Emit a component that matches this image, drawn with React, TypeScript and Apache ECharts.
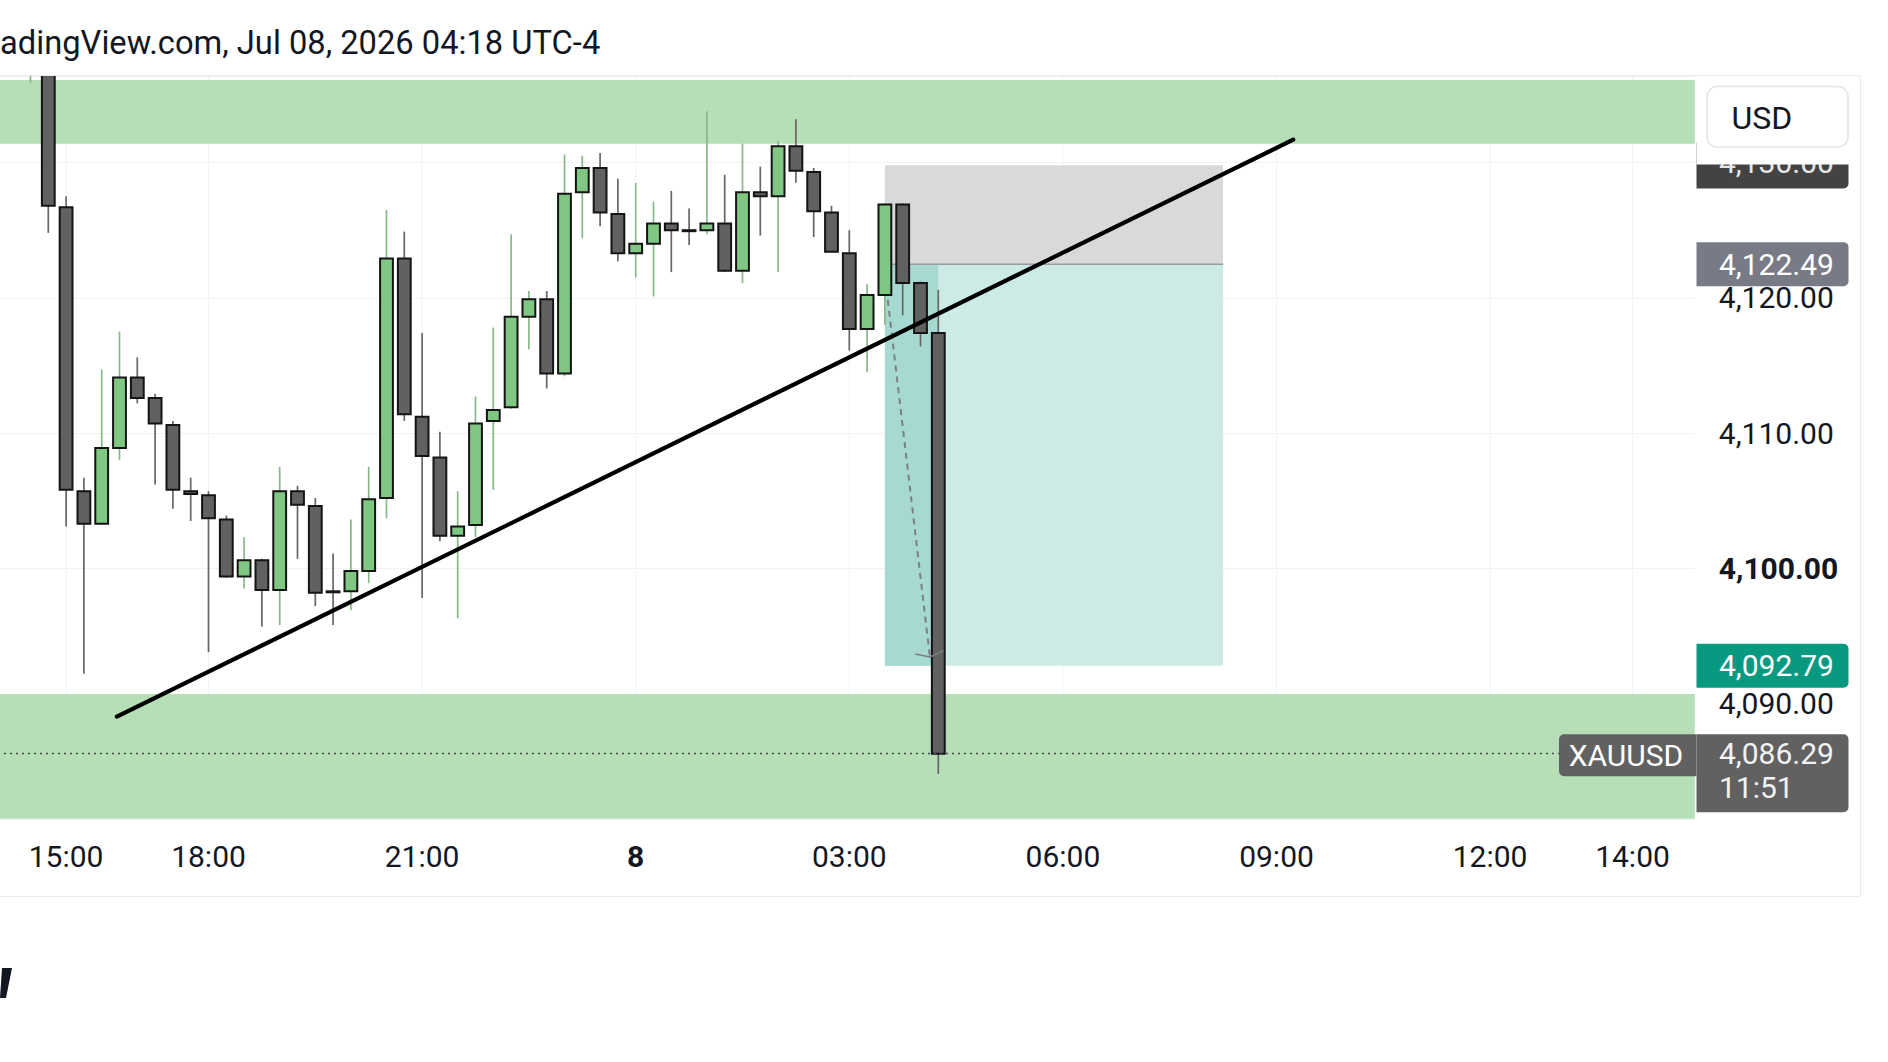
import React, { useEffect, useRef } from "react";
import * as echarts from "echarts";

// ---------- data ----------
const HEADER_TEXT = "adingView.com, Jul 08, 2026 04:18 UTC-4";

// 15-minute slots shown on the time axis (gold pauses 17:00-18:00)
const timeSlots: string[] = [
  "7 14:00", "7 14:15", "7 14:30", "7 14:45", "7 15:00", "7 15:15", "7 15:30", "7 15:45",
  "7 16:00", "7 16:15", "7 16:30", "7 16:45",
  "7 18:00", "7 18:15", "7 18:30", "7 18:45", "7 19:00", "7 19:15", "7 19:30", "7 19:45",
  "7 20:00", "7 20:15", "7 20:30", "7 20:45", "7 21:00", "7 21:15", "7 21:30", "7 21:45",
  "7 22:00", "7 22:15", "7 22:30", "7 22:45", "7 23:00", "7 23:15", "7 23:30", "7 23:45",
  "8 00:00", "8 00:15", "8 00:30", "8 00:45", "8 01:00", "8 01:15", "8 01:30", "8 01:45",
  "8 02:00", "8 02:15", "8 02:30", "8 02:45", "8 03:00", "8 03:15", "8 03:30", "8 03:45",
  "8 04:00", "8 04:15", "8 04:30", "8 04:45", "8 05:00", "8 05:15", "8 05:30", "8 05:45",
  "8 06:00", "8 06:15", "8 06:30", "8 06:45", "8 07:00", "8 07:15", "8 07:30", "8 07:45",
  "8 08:00", "8 08:15", "8 08:30", "8 08:45", "8 09:00", "8 09:15", "8 09:30", "8 09:45",
  "8 10:00", "8 10:15", "8 10:30", "8 10:45", "8 11:00", "8 11:15", "8 11:30", "8 11:45",
  "8 12:00", "8 12:15", "8 12:30", "8 12:45", "8 13:00", "8 13:15", "8 13:30", "8 13:45",
  "8 14:00", "8 14:15", "8 14:30", "8 14:45",
];

const tickSlots = ["7 15:00", "7 18:00", "7 21:00", "8 00:00", "8 03:00", "8 06:00", "8 09:00", "8 12:00", "8 14:00"];
const tickTexts = ["15:00", "18:00", "21:00", "8", "03:00", "06:00", "09:00", "12:00", "14:00"];
const boldTicks = ["8"];

const candleSlots = [
  "7 14:30", "7 14:45", "7 15:00", "7 15:15", "7 15:30", "7 15:45", "7 16:00", "7 16:15", "7 16:30", "7 16:45",
  "7 18:00", "7 18:15", "7 18:30", "7 18:45", "7 19:00", "7 19:15", "7 19:30", "7 19:45",
  "7 20:00", "7 20:15", "7 20:30", "7 20:45", "7 21:00", "7 21:15", "7 21:30", "7 21:45",
  "7 22:00", "7 22:15", "7 22:30", "7 22:45", "7 23:00", "7 23:15", "7 23:30", "7 23:45",
  "8 00:00", "8 00:15", "8 00:30", "8 00:45", "8 01:00", "8 01:15", "8 01:30", "8 01:45",
  "8 02:00", "8 02:15", "8 02:30", "8 02:45", "8 03:00", "8 03:15", "8 03:30", "8 03:45",
  "8 04:00", "8 04:15",
];
const opens = [
  4137.2, 4140.3, 4126.7, 4105.7, 4103.3, 4108.9, 4114.1, 4112.6, 4110.6, 4105.7,
  4105.4, 4103.6, 4099.4, 4100.6, 4098.4, 4105.7, 4104.6, 4098.3,
  4098.3, 4099.8, 4105.2, 4122.9, 4111.2, 4108.2, 4102.4, 4103.2,
  4110.9, 4111.9, 4118.6, 4119.9, 4114.4, 4127.8, 4129.6, 4126.2,
  4123.3, 4124.0, 4125.5, 4125.0, 4125.0, 4125.5, 4122.0, 4127.8,
  4127.5, 4131.2, 4129.3, 4126.3, 4123.3, 4117.7, 4120.2, 4126.9,
  4121.1, 4117.4,
];
const highs = [
  4141.5, 4140.8, 4127.5, 4106.7, 4114.7, 4117.5, 4115.6, 4112.9, 4110.9, 4106.7,
  4105.7, 4103.9, 4102.3, 4100.7, 4107.5, 4106.1, 4105.2, 4101.1,
  4103.6, 4107.5, 4126.5, 4124.9, 4117.4, 4110.1, 4105.7, 4112.7,
  4117.8, 4124.7, 4120.5, 4120.5, 4130.6, 4130.5, 4130.7, 4128.8,
  4128.5, 4127.1, 4127.9, 4126.6, 4133.8, 4129.1, 4131.4, 4129.7,
  4131.6, 4133.2, 4129.6, 4126.8, 4125.0, 4121.0, 4127.0, 4127.0,
  4121.2, 4120.6,
];
const lows = [
  4135.9, 4124.8, 4103.1, 4092.2, 4103.2, 4108.0, 4112.2, 4106.2, 4104.4, 4103.5,
  4093.8, 4099.3, 4098.5, 4095.7, 4095.8, 4100.7, 4097.2, 4095.8,
  4096.9, 4098.9, 4103.7, 4110.9, 4097.8, 4102.0, 4096.3, 4102.3,
  4105.8, 4111.8, 4116.2, 4113.3, 4114.2, 4124.4, 4125.3, 4122.7,
  4121.5, 4120.1, 4121.9, 4123.9, 4124.7, 4121.9, 4121.1, 4124.6,
  4121.9, 4128.5, 4124.5, 4123.4, 4116.1, 4114.5, 4118.0, 4118.7,
  4116.4, 4084.8,
];
const closes = [
  4140.5, 4126.8, 4105.8, 4103.3, 4108.9, 4114.1, 4112.6, 4110.7, 4105.8, 4105.5,
  4103.7, 4099.4, 4100.6, 4098.4, 4105.7, 4104.7, 4098.2, 4098.28,
  4099.8, 4105.1, 4122.9, 4111.4, 4108.3, 4102.4, 4103.1, 4110.7,
  4111.7, 4118.6, 4119.9, 4114.4, 4127.7, 4129.6, 4126.3, 4123.3,
  4124.0, 4125.5, 4125.0, 4124.98, 4125.5, 4122.0, 4127.8, 4127.5,
  4131.2, 4129.4, 4126.4, 4123.4, 4117.7, 4120.2, 4126.9, 4121.1,
  4117.4, 4086.29,
];

// price axis visible range
const priceTop = 4136.4;
const priceBottom = 4081.48;

// supply / demand zones [upper, lower]
const zoneUpper = [4136.1, 4131.4];
const zoneLower = [4090.7, 4070.0];

// short position tool
const posStartSlot = "8 03:30";
const posEndSlot = "8 08:15";
const posStop = 4129.8;
const posEntry = 4122.49;
const posTarget = 4092.79;

// trend line [slot position, price]
const trendStart = [6.85, 4089.04];
const trendEnd = [72.94, 4131.69];

// projected path (dashed arrow)
const pathStart = [50.16, 4119.85];
const pathEnd = [52.53, 4093.44];

// price scale labels
const topLabelPrice = 4130.0;
const lastPrice = closes[closes.length - 1];
const countdown = "11:51";
const symbolName = "XAUUSD";
const currency = "USD";

// ---------- styles ----------
const UP_FILL = "#81c784";
const DOWN_FILL = "#616161";
const UP_WICK = "#86b988";
const DOWN_WICK = "#676767";
const BORDER = "#141414";
const ZONE = "#b6dfb8";
const TEXT = "#131722";
const FONT = "Roboto";

const fmt = (v: number) =>
  v.toLocaleString("en-US", { minimumFractionDigits: 2, maximumFractionDigits: 2 });

const slotIndex = (s: string) => timeSlots.indexOf(s);

function clipRect(r: any, cs: any) {
  return echarts.graphic.clipRectByRect(r, cs);
}

function buildOption(): any {
  const candleData = candleSlots.map((s, i) => [slotIndex(s), opens[i], closes[i], lows[i], highs[i]]);
  const gridLineData = tickSlots.map((s) => [slotIndex(s)]);
  const n = timeSlots.length;

  return {
    animation: false,
    backgroundColor: "#ffffff",
    textStyle: { fontFamily: FONT },
    grid: {
      left: -14,
      top: 76,
      width: n * 17.8,
      height: 742.8,
      containLabel: false,
      outerBoundsMode: "none",
    },
    xAxis: [
      {
        type: "category",
        data: timeSlots,
        boundaryGap: true,
        position: "bottom",
        axisLine: { show: false },
        axisTick: { show: false },
        splitLine: { show: false },
        axisLabel: {
          interval: (_i: number, v: string) => tickSlots.indexOf(v) >= 0,
          formatter: (v: string) => {
            const t = tickTexts[tickSlots.indexOf(v)] ?? "";
            return boldTicks.indexOf(t) >= 0 ? `{b|${t}}` : t;
          },
          margin: 23,
          fontSize: 30,
          lineHeight: 30,
          color: TEXT,
          fontFamily: FONT,
          rich: { b: { fontSize: 30, fontWeight: "bold", color: TEXT, fontFamily: FONT, lineHeight: 30 } },
        },
      },
      { type: "value", min: -0.5, max: n - 0.5, show: false },
    ],
    yAxis: {
      type: "value",
      position: "right",
      min: priceBottom,
      max: priceTop,
      axisLine: { show: false },
      axisTick: { show: false },
      splitLine: { lineStyle: { color: "#f1f2f4", width: 1 } },
      axisLabel: {
        margin: 24,
        align: "left",
        fontSize: 30,
        color: TEXT,
        fontFamily: FONT,
        showMinLabel: false,
        showMaxLabel: false,
        formatter: (v: number) => {
          if (Math.abs(v / 10 - Math.round(v / 10)) > 1e-6) return "";
          return Math.round(v) === 4100 ? `{b|${fmt(v)}}` : fmt(v);
        },
        rich: { b: { fontSize: 30, fontWeight: "bold", color: TEXT, fontFamily: FONT } },
      },
    },
    series: [
      {
        name: "gridlines",
        type: "custom",
        xAxisIndex: 1,
        yAxisIndex: 0,
        z: 1,
        silent: true,
        data: gridLineData,
        encode: { x: 0 },
        renderItem: (params: any, api: any) => {
          const cs = params.coordSys;
          const x = api.coord([api.value(0), priceBottom])[0];
          return {
            type: "line",
            shape: { x1: x, y1: cs.y, x2: x, y2: cs.y + cs.height },
            style: { stroke: "#f1f2f4", lineWidth: 1 },
          };
        },
      },
      {
        name: "zones",
        type: "custom",
        xAxisIndex: 1,
        yAxisIndex: 0,
        z: 2,
        silent: true,
        data: [zoneUpper, zoneLower],
        encode: { y: [0, 1] },
        renderItem: (params: any, api: any) => {
          const cs = params.coordSys;
          const y1 = api.coord([0, api.value(0)])[1];
          const y2 = api.coord([0, api.value(1)])[1];
          const r = clipRect({ x: cs.x, y: y1, width: cs.width, height: y2 - y1 }, cs);
          if (!r) return null;
          return { type: "rect", shape: r, style: { fill: ZONE } };
        },
      },
      {
        name: "position",
        type: "custom",
        xAxisIndex: 1,
        yAxisIndex: 0,
        z: 3,
        silent: true,
        data: [[slotIndex(posStartSlot), slotIndex(posEndSlot), slotIndex(candleSlots[candleSlots.length - 1]), posStop, posEntry, posTarget]],
        encode: { x: [0, 1], y: [3, 4, 5] },
        renderItem: (params: any, api: any) => {
          const cs = params.coordSys;
          const x0 = api.coord([api.value(0), posEntry])[0];
          const x1 = api.coord([api.value(1), posEntry])[0];
          const xn = api.coord([api.value(2), posEntry])[0];
          const ys = api.coord([0, api.value(3)])[1];
          const ye = api.coord([0, api.value(4)])[1];
          const yt = api.coord([0, api.value(5)])[1];
          const kids: any[] = [];
          const a = clipRect({ x: x0, y: ys, width: x1 - x0, height: ye - ys }, cs);
          if (a) kids.push({ type: "rect", shape: a, style: { fill: "#d9d9d9" } });
          const b = clipRect({ x: x0, y: ye, width: x1 - x0, height: yt - ye }, cs);
          if (b) kids.push({ type: "rect", shape: b, style: { fill: "#cdebe6" } });
          const c = clipRect({ x: x0, y: ye, width: xn - x0, height: yt - ye }, cs);
          if (c) kids.push({ type: "rect", shape: c, style: { fill: "#a6d9d1" } });
          kids.push({ type: "line", shape: { x1: x0, y1: ye, x2: x1, y2: ye }, style: { stroke: "#9a9ca3", lineWidth: 1.5 } });
          return { type: "group", children: kids };
        },
      },
      {
        name: "candles",
        type: "custom",
        xAxisIndex: 1,
        yAxisIndex: 0,
        z: 4,
        silent: true,
        data: candleData,
        encode: { x: 0, y: [1, 2, 3, 4] },
        renderItem: (params: any, api: any) => {
          const cs = params.coordSys;
          const x = api.value(0);
          const o = api.value(1);
          const c = api.value(2);
          const l = api.value(3);
          const h = api.value(4);
          const px = api.coord([x, o])[0];
          const yO = api.coord([x, o])[1];
          const yC = api.coord([x, c])[1];
          const yL = api.coord([x, l])[1];
          const yH = api.coord([x, h])[1];
          const up = c >= o;
          const bw = api.size([1, 0])[0] * 0.72;
          const top = Math.min(yO, yC);
          const bot = Math.max(Math.max(yO, yC), top + 1);
          const cy0 = cs.y;
          const cy1 = cs.y + cs.height;
          const kids: any[] = [];
          const wt = Math.max(yH, cy0);
          const wb = Math.min(yL, cy1);
          if (wb > wt) {
            kids.push({
              type: "line",
              shape: { x1: px, y1: wt, x2: px, y2: wb },
              style: { stroke: up ? UP_WICK : DOWN_WICK, lineWidth: 1.7 },
            });
          }
          const bt = Math.max(top, cy0);
          const bb = Math.min(bot, cy1);
          if (bb > bt) {
            const fill = up ? UP_FILL : DOWN_FILL;
            const left = px - bw / 2;
            if (bt > top) {
              kids.push({ type: "rect", shape: { x: left, y: bt, width: bw, height: bb - bt }, style: { fill } });
              kids.push({
                type: "polyline",
                shape: { points: [[left, bt], [left, bb], [left + bw, bb], [left + bw, bt]] },
                style: { stroke: BORDER, lineWidth: 2, fill: null },
              });
            } else {
              kids.push({
                type: "rect",
                shape: { x: left, y: bt, width: bw, height: bb - bt },
                style: { fill, stroke: BORDER, lineWidth: 2 },
              });
            }
          }
          return { type: "group", children: kids };
        },
      },
      {
        name: "path",
        type: "custom",
        xAxisIndex: 1,
        yAxisIndex: 0,
        z: 5,
        silent: true,
        data: [[pathStart[0], pathStart[1], pathEnd[0], pathEnd[1]]],
        encode: { x: [0, 2], y: [1, 3] },
        renderItem: (_params: any, api: any) => {
          const p0 = api.coord([api.value(0), api.value(1)]);
          const p1 = api.coord([api.value(2), api.value(3)]);
          const dx = p0[0] - p1[0];
          const dy = p0[1] - p1[1];
          const len = Math.sqrt(dx * dx + dy * dy);
          const ux = dx / len;
          const uy = dy / len;
          const arm = (ang: number) => {
            const ca = Math.cos(ang);
            const sa = Math.sin(ang);
            return [p1[0] + 15 * (ux * ca - uy * sa), p1[1] + 15 * (ux * sa + uy * ca)];
          };
          const a1 = arm(1.25);
          const a2 = arm(-1.25);
          return {
            type: "group",
            children: [
              { type: "line", shape: { x1: p0[0], y1: p0[1], x2: p1[0], y2: p1[1] }, style: { stroke: "#7d7f86", lineWidth: 2, lineDash: [6, 5] } },
              { type: "polyline", shape: { points: [a1, p1, a2] }, style: { stroke: "#7d7f86", lineWidth: 1.5, fill: null } },
            ],
          };
        },
      },
      {
        name: "trend",
        type: "line",
        xAxisIndex: 1,
        yAxisIndex: 0,
        z: 6,
        silent: true,
        showSymbol: false,
        symbol: "none",
        data: [trendStart, trendEnd],
        lineStyle: { color: "#000000", width: 4.2, cap: "round" },
        markLine: {
          silent: true,
          symbol: ["none", "none"],
          label: { show: false },
          lineStyle: { type: [2, 4], color: "#4a4a4a", width: 1.3 },
          data: [{ yAxis: lastPrice }],
        },
      },
    ],
  };
}

function buildGraphic(yOf: (p: number) => number): any[] {
  const axX = 1696.5;
  const axW = 152;
  const tx = 1719;
  const label = (price: number, bg: string, txt: string) => {
    const y = yOf(price);
    return [
      { type: "rect", z: 100, shape: { x: axX, y: y - 22, width: axW, height: 44, r: [0, 5, 5, 0] }, style: { fill: bg } },
      { type: "text", z: 101, style: { x: tx, y, text: txt, fontSize: 30, fontFamily: FONT, fill: "#ffffff", verticalAlign: "middle", align: "left" } },
    ];
  };
  const yTop = yOf(topLabelPrice);
  const yLast = yOf(lastPrice);
  return [
    { type: "text", z: 100, style: { x: 0, y: 43, text: HEADER_TEXT, fontSize: 32.7, fontFamily: FONT, fill: TEXT, verticalAlign: "middle", align: "left" } },
    { type: "line", z: 100, shape: { x1: 0, y1: 75.5, x2: 1860.5, y2: 75.5 }, style: { stroke: "#ebebed", lineWidth: 1 } },
    { type: "line", z: 100, shape: { x1: 1860.5, y1: 75.5, x2: 1860.5, y2: 896.5 }, style: { stroke: "#ebebed", lineWidth: 1 } },
    { type: "line", z: 100, shape: { x1: 0, y1: 896.5, x2: 1860.5, y2: 896.5 }, style: { stroke: "#ebebed", lineWidth: 1 } },
    { type: "polygon", z: 100, shape: { points: [[2, 968], [12, 968], [6, 998], [0, 998]] }, style: { fill: TEXT } },
    // dark level label partly hidden under the currency button area
    { type: "rect", z: 100, shape: { x: axX, y: yTop - 22 + 2, width: axW, height: 46, r: [0, 5, 5, 0] }, style: { fill: "#434343" } },
    { type: "text", z: 101, style: { x: tx, y: yTop, text: fmt(topLabelPrice), fontSize: 30, fontFamily: FONT, fill: "#e6e6e6", verticalAlign: "middle", align: "left" } },
    { type: "rect", z: 102, shape: { x: axX, y: 76, width: 1860 - axX, height: yTop + 2 - 76 }, style: { fill: "#ffffff" } },
    { type: "rect", z: 103, shape: { x: 1707, y: 86.5, width: 141, height: 60.5, r: 10 }, style: { fill: "#ffffff", stroke: "#e4e4e6", lineWidth: 1.5 } },
    { type: "text", z: 104, style: { x: 1731.5, y: 118, text: currency, fontSize: 32, fontFamily: FONT, fill: TEXT, verticalAlign: "middle", align: "left" } },
    ...label(posEntry, "#787b86", fmt(posEntry)),
    ...label(posTarget, "#089981", fmt(posTarget)),
    { type: "rect", z: 100, shape: { x: axX, y: yLast - 19.5, width: axW, height: 78, r: [0, 5, 5, 0] }, style: { fill: "#616161" } },
    { type: "text", z: 101, style: { x: tx, y: yLast, text: fmt(lastPrice), fontSize: 30, fontFamily: FONT, fill: "#f2f2f2", verticalAlign: "middle", align: "left" } },
    { type: "text", z: 101, style: { x: tx, y: yLast + 33.5, text: countdown, fontSize: 30, fontFamily: FONT, fill: "#f2f2f2", verticalAlign: "middle", align: "left" } },
    { type: "rect", z: 100, shape: { x: 1559, y: yLast - 19.5, width: axX - 1559, height: 42, r: [5, 0, 0, 5] }, style: { fill: "#616161" } },
    { type: "text", z: 101, style: { x: 1626, y: yLast + 1.5, text: symbolName, fontSize: 30, fontFamily: FONT, fill: "#ffffff", verticalAlign: "middle", align: "center" } },
  ];
}

export default function App() {
  const ref = useRef<HTMLDivElement>(null);
  useEffect(() => {
    const el = ref.current;
    if (!el) return;
    const chart = echarts.init(el, null, { renderer: "svg" });
    chart.setOption(buildOption());
    const yOf = (p: number) => chart.convertToPixel({ yAxisIndex: 0 }, p) as unknown as number;
    chart.setOption({ graphic: buildGraphic(yOf) });
    return () => chart.dispose();
  }, []);
  return (
    <div
      ref={ref}
      style={{ position: "fixed", left: 0, top: 0, width: 1888, height: 1062, background: "#ffffff" }}
    />
  );
}
